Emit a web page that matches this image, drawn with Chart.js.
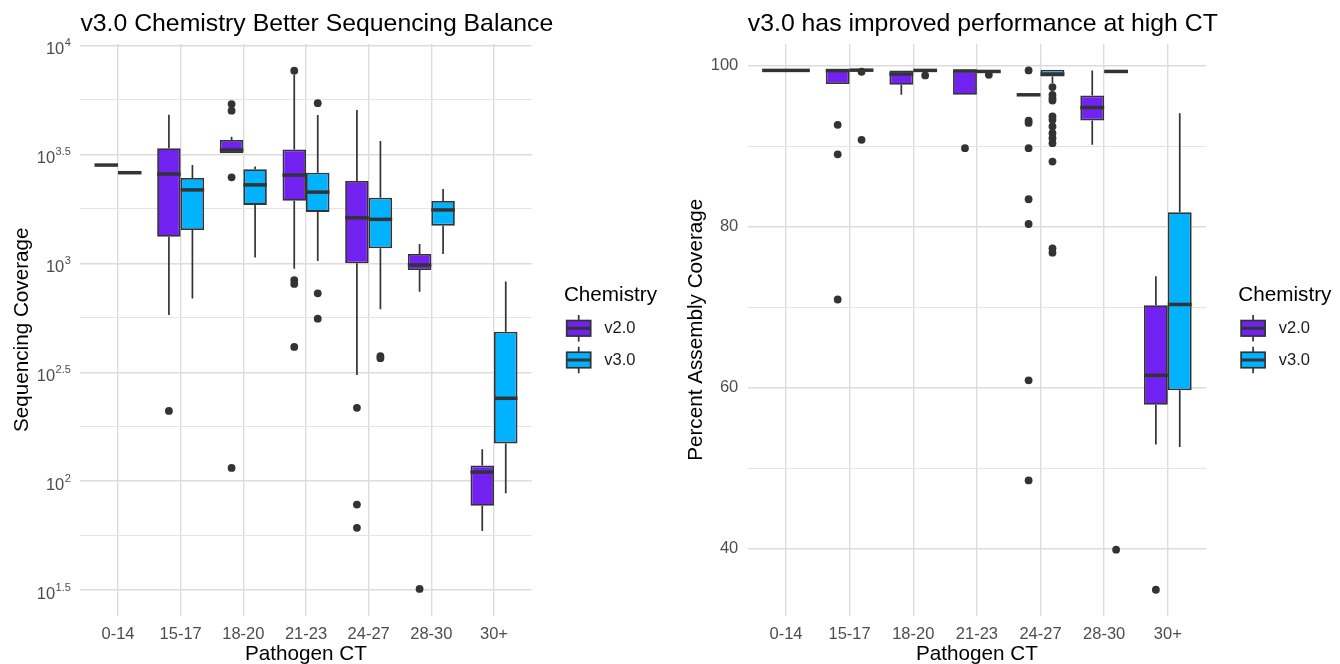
<!DOCTYPE html>
<html><head><meta charset="utf-8">
<script src="https://cdn.jsdelivr.net/npm/chart.js@4.4.1/dist/chart.umd.min.js"></script>
<style>
html,body{margin:0;padding:0;background:#fff;overflow:hidden;}
#wrap{position:relative;width:1340px;height:664px;background:#fff;}
canvas{position:absolute;top:0;}
#c1{left:0}
#c2{left:672px}
</style></head><body>
<div id="wrap"><canvas id="c1" width="672" height="664"></canvas><canvas id="c2" width="668" height="664"></canvas></div>
<script>
// ---------------- DATA ----------------
const categories = ['0-14', '15-17', '18-20', '21-23', '24-27', '28-30', '30+'];
const seriesNames = ['v2.0', 'v3.0'];
const seriesColors = ['#7121F0', '#00B2FF'];

// Left chart: Sequencing Coverage (log scale)
const covV2Low  = [2825, 579, 3199, 944, 307, 741, 59];
const covV2Q1   = [2825, 1324, 3199, 1936, 1000, 931, 77];
const covV2Med  = [2825, 2570, 3311, 2541, 1618, 982, 110];
const covV2Q3   = [2825, 3373, 3681, 3334, 2388, 1104, 118];
const covV2High = [2825, 4808, 3811, 7328, 5058, 1227, 140];
const covV2Out  = [[], [210], [5383, 5023, 2483, 115], [7656, 838, 804, 413], [217, 78, 61], [32], []];

const covV3Low  = [2606, 690, 1062, 1026, 615, 1104, 88];
const covV3Q1   = [2606, 1422, 1854, 1722, 1172, 1489, 149];
const covV3Med  = [2606, 2173, 2291, 2123, 1592, 1758, 240];
const covV3Q3   = [2606, 2466, 2704, 2606, 2000, 1932, 485];
const covV3High = [2606, 2825, 2780, 4797, 3648, 2193, 824];
const covV3Out  = [[], [], [], [5433, 728, 557], [375, 367], [], []];

const covTickExponents = [1.5, 2, 2.5, 3, 3.5, 4];
const covGridExponents = [1.5, 1.75, 2, 2.25, 2.5, 2.75, 3, 3.25, 3.5, 3.75, 4];

// Right chart: Percent Assembly Coverage
const pctV2Low  = [99.42, 97.72, 96.39, 96.39, 96.39, 90.17, 52.95];
const pctV2Q1   = [99.42, 97.72, 97.64, 96.39, 96.39, 93.19, 57.89];
const pctV2Med  = [99.42, 99.40, 98.97, 99.35, 96.39, 94.81, 61.54];
const pctV2Q3   = [99.42, 99.50, 99.42, 99.42, 96.39, 96.31, 70.25];
const pctV2High = [99.42, 99.50, 99.42, 99.42, 96.39, 99.42, 73.86];
const pctV2Out  = [[], [92.66, 89.0, 70.96], [], [89.76], [99.42, 93.19, 92.9, 89.76, 83.41, 80.34, 60.92, 48.48], [], [34.9]];

const pctV3Low  = [99.42, 99.45, 99.42, 99.29, 97.85, 99.29, 52.62];
const pctV3Q1   = [99.42, 99.45, 99.42, 99.29, 98.67, 99.29, 59.68];
const pctV3Med  = [99.42, 99.45, 99.42, 99.29, 98.97, 99.29, 70.34];
const pctV3Q3   = [99.42, 99.45, 99.42, 99.29, 99.50, 99.29, 81.79];
const pctV3High = [99.42, 99.45, 99.42, 99.29, 99.50, 99.29, 94.11];
const pctV3Out  = [[], [99.25, 90.79], [98.8], [98.88], [97.35, 96.39, 95.98, 95.68, 93.69, 93.28, 92.45, 91.62, 91.0, 90.38, 88.09, 77.31, 76.77], [39.88], []];

const pctTicks = [40, 50, 60, 70, 80, 90, 100];
const pctLabelledTicks = [40, 60, 80, 100];

// ---------------- STYLE ----------------
const FONT = '"Liberation Sans", Arial, Helvetica, sans-serif';
const INK = '#333333';
const GRID_MAJOR = '#dcdcdc';
const GRID_MINOR = '#e4e4e4';

function boxPlugin(stats) {
  return {
    id: 'boxes',
    beforeDatasetsDraw(chart) {
      const ctx = chart.ctx, y = chart.scales.y;
      ctx.save();
      ctx.strokeStyle = INK; ctx.lineWidth = 1.7;
      stats.forEach((s, di) => {
        chart.getDatasetMeta(di).data.forEach((bar, i) => {
          ctx.beginPath();
          ctx.moveTo(bar.x, y.getPixelForValue(s.q3[i])); ctx.lineTo(bar.x, y.getPixelForValue(s.high[i]));
          ctx.moveTo(bar.x, y.getPixelForValue(s.q1[i])); ctx.lineTo(bar.x, y.getPixelForValue(s.low[i]));
          ctx.stroke();
        });
      });
      ctx.restore();
    },
    afterDatasetsDraw(chart) {
      const ctx = chart.ctx, y = chart.scales.y;
      ctx.save();
      stats.forEach((s, di) => {
        chart.getDatasetMeta(di).data.forEach((bar, i) => {
          const half = bar.width / 2;
          const py = y.getPixelForValue(s.med[i]);
          ctx.strokeStyle = INK; ctx.lineWidth = 3.5; ctx.lineCap = 'butt';
          ctx.beginPath(); ctx.moveTo(bar.x - half, py); ctx.lineTo(bar.x + half, py); ctx.stroke();
          ctx.fillStyle = INK;
          s.out[i].forEach(v => {
            ctx.beginPath(); ctx.arc(bar.x, y.getPixelForValue(v), 3.9, 0, Math.PI * 2); ctx.fill();
          });
        });
      });
      ctx.restore();
    }
  };
}

function textPlugin(o) {
  return {
    id: 'texts',
    afterDraw(chart) {
      const ctx = chart.ctx, a = chart.chartArea;
      ctx.save();
      ctx.fillStyle = '#000';
      ctx.textBaseline = 'alphabetic';
      ctx.textAlign = 'left';
      ctx.font = '24.8px ' + FONT;
      ctx.fillText(o.title, a.left, 31);
      ctx.font = '20.7px ' + FONT;
      ctx.textAlign = 'center';
      ctx.fillText(o.xTitle, (a.left + a.right) / 2, 660);
      ctx.save();
      ctx.translate(o.yTitleX, (a.top + a.bottom) / 2);
      ctx.rotate(-Math.PI / 2);
      ctx.textBaseline = 'middle';
      ctx.fillText(o.yTitle, 0, 0);
      ctx.restore();
      // legend
      const x0 = a.right + 32.3;
      ctx.textAlign = 'left'; ctx.textBaseline = 'middle';
      ctx.font = '20.7px ' + FONT;
      ctx.fillText('Chemistry', x0, 295);
      seriesNames.forEach((name, k) => {
        const cy = 328.3 + k * 31.7;
        const bx = x0 + 2.8, bw = 24, bh = 15.5;
        ctx.strokeStyle = INK; ctx.lineWidth = 1.7;
        ctx.beginPath(); ctx.moveTo(bx + bw / 2, cy - 13.3); ctx.lineTo(bx + bw / 2, cy + 13.3); ctx.stroke();
        ctx.fillStyle = seriesColors[k];
        ctx.fillRect(bx, cy - bh / 2, bw, bh);
        ctx.strokeRect(bx, cy - bh / 2, bw, bh);
        ctx.lineWidth = 3; ctx.beginPath(); ctx.moveTo(bx, cy); ctx.lineTo(bx + bw, cy); ctx.stroke();
        ctx.fillStyle = '#1a1a1a';
        ctx.font = '16.5px ' + FONT;
        ctx.fillText(name, x0 + 40.4, cy);
      });
      // custom log tick labels
      if (o.logLabels) {
        const y = chart.scales.y;
        const rx = a.left - 9.5;
        ctx.fillStyle = '#4D4D4D';
        ctx.textAlign = 'right'; ctx.textBaseline = 'alphabetic';
        o.logLabels.forEach(e => {
          const py = y.getPixelForValue(Math.pow(10, e));
          const es = String(e);
          ctx.font = '11px ' + FONT;
          const ew = ctx.measureText(es).width;
          ctx.fillText(es, rx, py + 0.5);
          ctx.font = '16.5px ' + FONT;
          ctx.fillText('10', rx - ew - 0.5, py + 8.6);
        });
      }
      ctx.restore();
    }
  };
}

function mkData(low, q1, med, q3, high, out) {
  return { low, q1, med, q3, high, out };
}

function makeChart(id, opt) {
  const datasets = opt.stats.map((s, k) => ({
    label: seriesNames[k],
    data: categories.map((c, i) => ({ x: i, y: [s.q1[i], s.q3[i]] })),
    backgroundColor: seriesColors[k],
    borderColor: INK,
    borderWidth: 1.8,
    borderSkipped: false,
    categoryPercentage: 0.75,
    barPercentage: 1.0
  }));
  return new Chart(document.getElementById(id), {
    type: 'bar',
    data: { datasets },
    options: {
      responsive: false, animation: false, devicePixelRatio: 1,
      layout: { padding: { left: 0, right: opt.padRight, top: 44, bottom: 0 } },
      plugins: { legend: { display: false }, tooltip: { enabled: false }, title: { display: false } },
      scales: {
        x: {
          type: 'linear', min: -0.6, max: categories.length - 0.4, offset: false,
          afterBuildTicks: sc => { sc.ticks = categories.map((c, i) => ({ value: i })); },
          afterFit: sc => { sc.height = 48.5; },
          ticks: { autoSkip: false, maxRotation: 0, padding: 9.5, color: '#4D4D4D',
                   font: { family: FONT, size: 16.5 }, callback: v => categories[v] ?? '' },
          grid: { color: GRID_MAJOR, lineWidth: 1.4, drawTicks: false, offset: false },
          border: { display: false }
        },
        y: opt.yScale
      }
    },
    plugins: [boxPlugin(opt.stats), textPlugin(opt.text)]
  });
}

// Left chart
makeChart('c1', {
  padRight: 672 - 531.6,
  stats: [
    mkData(covV2Low, covV2Q1, covV2Med, covV2Q3, covV2High, covV2Out),
    mkData(covV3Low, covV3Q1, covV3Med, covV3Q3, covV3High, covV3Out)
  ],
  yScale: {
    type: 'logarithmic', min: Math.pow(10, 1.383), max: Math.pow(10, 4.0069),
    afterBuildTicks: sc => { sc.ticks = covGridExponents.map(e => ({ value: Math.pow(10, e) })); },
    afterFit: sc => { sc.width = 80.4; },
    ticks: { display: false },
    grid: {
      drawTicks: false,
      color: c => (c.index % 2 === 0 ? GRID_MAJOR : GRID_MINOR),
      lineWidth: c => (c.index % 2 === 0 ? 1.4 : 1.0)
    },
    border: { display: false }
  },
  text: {
    title: 'v3.0 Chemistry Better Sequencing Balance',
    xTitle: 'Pathogen CT', yTitle: 'Sequencing Coverage', yTitleX: 22.5,
    logLabels: covTickExponents
  }
});

// Right chart
makeChart('c2', {
  padRight: 668 - 534,
  stats: [
    mkData(pctV2Low, pctV2Q1, pctV2Med, pctV2Q3, pctV2High, pctV2Out),
    mkData(pctV3Low, pctV3Q1, pctV3Med, pctV3Q3, pctV3High, pctV3Out)
  ],
  yScale: {
    type: 'linear', min: 31.7, max: 102.7,
    afterBuildTicks: sc => { sc.ticks = pctTicks.map(v => ({ value: v })); },
    afterFit: sc => { sc.width = 75.8; },
    ticks: { padding: 9.5, color: '#4D4D4D', font: { family: FONT, size: 16.5 },
             callback: v => (pctLabelledTicks.includes(v) ? String(v) : '') },
    grid: {
      drawTicks: false,
      color: c => (pctLabelledTicks.includes(c.tick.value) ? GRID_MAJOR : GRID_MINOR),
      lineWidth: c => (pctLabelledTicks.includes(c.tick.value) ? 1.4 : 1.0)
    },
    border: { display: false }
  },
  text: {
    title: 'v3.0 has improved performance at high CT',
    xTitle: 'Pathogen CT', yTitle: 'Percent Assembly Coverage', yTitleX: 24
  }
});
</script>
</body></html>
